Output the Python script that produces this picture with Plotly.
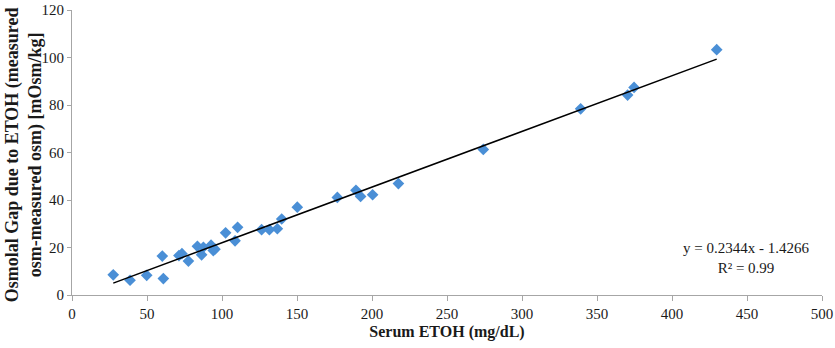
import plotly.graph_objects as go
import numpy as np

# Data
serum_etoh = [27.5, 38.7, 49.8, 60.2, 60.9, 71.3, 73.3, 77.6, 83.6, 86.4, 87.6, 92.7,
              94.2, 95.3, 102.4, 108.7, 110.4, 126.4, 131.6, 136.9, 139.8, 150.2,
              176.9, 189.3, 192.4, 200.4, 217.6, 274.2, 339.1, 370.4, 374.7, 429.8]
osmolal_gap = [8.5, 6.2, 8.3, 16.4, 6.9, 16.6, 17.4, 14.3, 20.5, 16.9, 20.1, 21.0,
               18.7, 19.3, 26.2, 22.8, 28.5, 27.5, 27.5, 27.9, 32.0, 37.0,
               41.1, 44.1, 41.5, 42.2, 46.9, 61.3, 78.4, 84.2, 87.4, 103.3]
slope = 0.2344
intercept = -1.4266
r_squared = 0.99
x_ticks = [0, 50, 100, 150, 200, 250, 300, 350, 400, 450, 500]
y_ticks = [0, 20, 40, 60, 80, 100, 120]

fit_x = np.array([min(serum_etoh), max(serum_etoh)])
fit_y = slope * fit_x + intercept

font_family = "Liberation Serif, Times New Roman, serif"
text_color = "#1a1a1a"
axis_color = "#a6a6a6"

fig = go.Figure()
fig.add_trace(go.Scatter(
    x=serum_etoh, y=osmolal_gap, mode="markers",
    marker=dict(symbol="diamond", size=9, color="#4a8fd6"),
    showlegend=False, hoverinfo="x+y"))
fig.add_trace(go.Scatter(
    x=fit_x, y=fit_y, mode="lines",
    line=dict(color="black", width=1.5),
    showlegend=False, hoverinfo="skip"))

# Trendline equation
fig.add_annotation(
    x=0.899, y=0.13, xref="paper", yref="paper", xanchor="center", yanchor="middle",
    text=f"y = {slope}x - {abs(intercept)}<br>R² = {r_squared}",
    showarrow=False, align="center",
    font=dict(family=font_family, size=15, color=text_color))

# Y axis title
fig.add_annotation(
    x=-0.064, y=0.49, xref="paper", yref="paper", xanchor="center", yanchor="middle",
    text="<b>Osmolal Gap due to ETOH (measured<br>osm-measured osm) [mOsm/kg]</b>",
    textangle=-90, showarrow=False, align="center",
    font=dict(family=font_family, size=18, color=text_color))

fig.update_layout(
    width=835, height=348,
    margin=dict(l=72, r=13, t=10, b=53),
    plot_bgcolor="white", paper_bgcolor="white",
    font=dict(family=font_family, size=15, color=text_color),
    xaxis=dict(
        range=[0, 500], tickvals=x_ticks, showgrid=False, zeroline=False,
        showline=True, linecolor=axis_color, linewidth=1,
        ticks="outside", ticklen=5, tickcolor=axis_color, automargin=False,
        tickfont=dict(family=font_family, size=15, color=text_color),
        title=dict(text="<b>Serum ETOH (mg/dL)</b>", standoff=4,
                   font=dict(family=font_family, size=16, color=text_color))),
    yaxis=dict(
        range=[0, 120], tickvals=y_ticks, showgrid=False, zeroline=False,
        showline=True, linecolor=axis_color, linewidth=1,
        ticks="outside", ticklen=4, tickcolor=axis_color, automargin=False,
        tickfont=dict(family=font_family, size=15, color=text_color)),
)

fig.write_html("out.html", config={"displayModeBar": False},
               post_script="document.body.style.margin='0px';document.body.style.overflow='hidden';")
